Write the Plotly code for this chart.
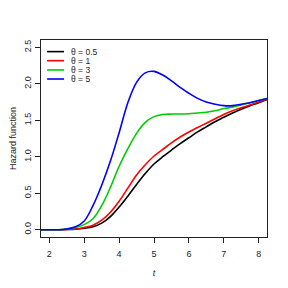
import plotly.graph_objects as go

t = [1.75, 2.0, 2.25, 2.5, 2.75, 3.0, 3.25, 3.5, 3.75, 4.0, 4.25, 4.5, 4.75, 5.0,
     5.25, 5.5, 5.75, 6.0, 6.25, 6.5, 6.75, 7.0, 7.25, 7.5, 7.75, 8.0, 8.25]

h_05 = [0, 0, 0, 0.003, 0.008, 0.02, 0.04, 0.09, 0.18, 0.31, 0.46, 0.62, 0.77, 0.90,
        1.00, 1.09, 1.18, 1.26, 1.34, 1.41, 1.48, 1.54, 1.60, 1.65, 1.70, 1.74, 1.79]
h_1 = [0, 0, 0, 0.005, 0.01, 0.03, 0.06, 0.13, 0.24, 0.39, 0.57, 0.75, 0.89, 1.01,
       1.10, 1.19, 1.27, 1.34, 1.40, 1.46, 1.52, 1.58, 1.63, 1.67, 1.71, 1.75, 1.79]
h_3 = [0, 0, 0, 0.01, 0.03, 0.07, 0.15, 0.33, 0.58, 0.87, 1.11, 1.32, 1.47, 1.55,
       1.58, 1.585, 1.585, 1.59, 1.60, 1.61, 1.63, 1.66, 1.68, 1.71, 1.74, 1.77, 1.80]
h_5 = [0, 0, 0, 0.01, 0.04, 0.12, 0.33, 0.61, 0.94, 1.33, 1.74, 2.02, 2.15, 2.17,
       2.12, 2.04, 1.95, 1.87, 1.80, 1.75, 1.72, 1.70, 1.70, 1.72, 1.74, 1.77, 1.80]

series = [h_05, h_1, h_3, h_5]
labels = ["θ = 0.5", "θ = 1", "θ = 3", "θ = 5"]
colors = ["#000000", "#FF0000", "#00CD00", "#0000FF"]

x_ticks = [2, 3, 4, 5, 6, 7, 8]
y_ticks = [0.0, 0.5, 1.0, 1.5, 2.0, 2.5]

FONT = "Liberation Sans, Arial, Helvetica, sans-serif"

fig = go.Figure()
for ys, lab, col in zip(series, labels, colors):
    fig.add_trace(go.Scatter(x=t, y=ys, mode="lines", name=lab,
                             line=dict(color=col, width=1.6, shape="spline", smoothing=1.0),
                             showlegend=False, hoverinfo="skip"))

# manual R-style legend (top-left, no box)
leg_y = [0.941, 0.895, 0.848, 0.802]
for lab, col, yy in zip(labels, colors, leg_y):
    fig.add_shape(type="line", xref="paper", yref="paper",
                  x0=0.027, x1=0.102, y0=yy, y1=yy,
                  line=dict(color=col, width=1.6))
    fig.add_annotation(xref="paper", yref="paper", x=0.125, y=yy,
                       text=lab, showarrow=False, xanchor="left", yanchor="middle",
                       font=dict(size=8.5, color="#222222", family=FONT))

axis_common = dict(showline=True, linecolor="#222222", linewidth=1, mirror=True,
                   ticks="outside", ticklen=5, tickwidth=1, tickcolor="#222222",
                   showgrid=False, zeroline=False, automargin=False,
                   tickfont=dict(size=9, color="#222222", family=FONT))

# page body has an 8px default margin, so the figure is 280x280 with adjusted margins
fig.update_layout(
    width=280, height=280,
    margin=dict(l=33, r=21, t=32, b=51),
    paper_bgcolor="white", plot_bgcolor="white",
    xaxis=dict(range=[1.76, 8.24], tickvals=x_ticks, ticklabelstandoff=3,
               title=dict(text="<i>t</i>", standoff=11,
                          font=dict(size=9, color="#222222", family=FONT)),
               **axis_common),
    yaxis=dict(range=[-0.1, 2.6], tickvals=y_ticks, tickformat=".1f", tickangle=-90,
               title=dict(text="Hazard function", standoff=13,
                          font=dict(size=9, color="#222222", family=FONT)),
               **axis_common),
)

fig.write_html("out.html")
